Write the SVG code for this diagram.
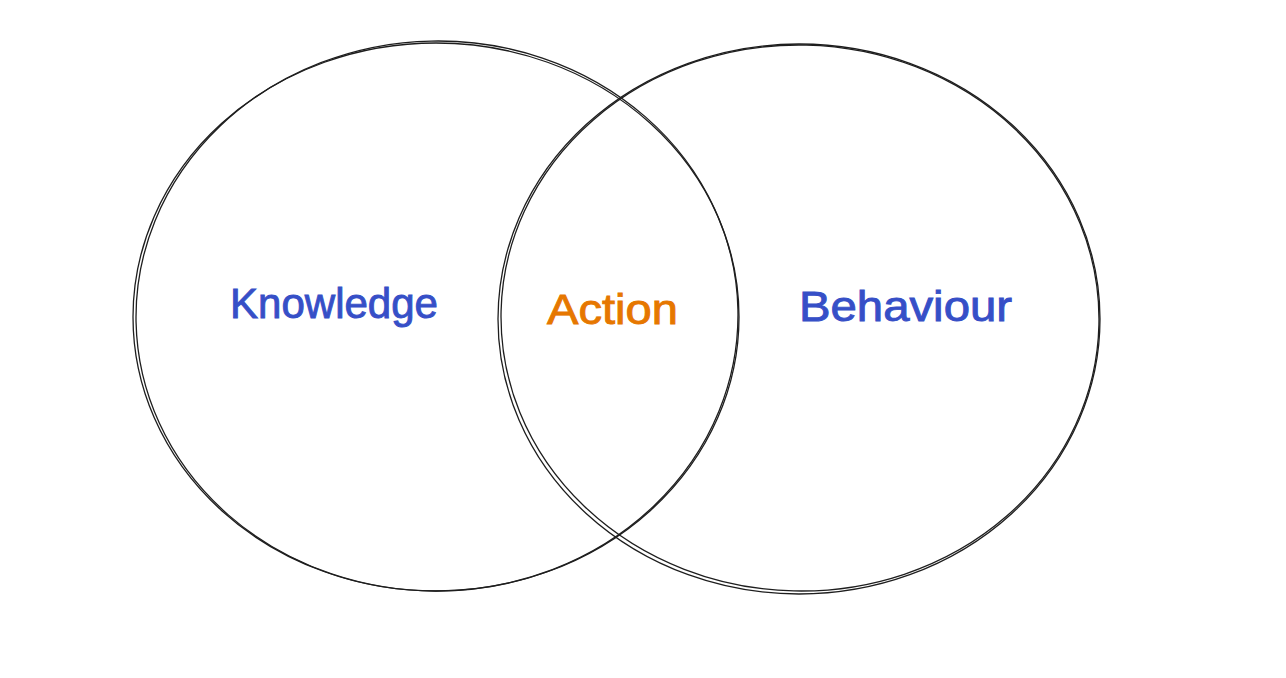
<svg xmlns="http://www.w3.org/2000/svg" width="1286" height="678" viewBox="0 0 1286 678">
<style>
.c{fill:none;stroke:#1e1e1e;stroke-width:1.3;stroke-linecap:round}
.t{font-family:"Liberation Sans",Arial,sans-serif;font-size:42px;stroke-width:0.9}
.b{fill:#364fc7;stroke:#364fc7}
.o{fill:#e67700;stroke:#e67700}
</style>
<rect width="1286" height="678" fill="#ffffff"/>
<g id="knowledge">
<ellipse class="c" cx="436" cy="317" rx="303" ry="274"/>
<ellipse class="c" cx="437" cy="316" rx="301" ry="275" transform="rotate(-1.2 437 316)"/>
<text class="t b" x="230" y="318" textLength="208" lengthAdjust="spacingAndGlyphs">Knowledge</text>
</g>
<g id="behaviour">
<ellipse class="c" cx="799" cy="319" rx="301" ry="275"/>
<ellipse class="c" cx="800" cy="318" rx="299" ry="273" transform="rotate(1.3 800 318)"/>
<text class="t b" x="799" y="321" textLength="213" lengthAdjust="spacingAndGlyphs">Behaviour</text>
</g>
<g id="action">
<text class="t o" x="547" y="324" textLength="131" lengthAdjust="spacingAndGlyphs">Action</text>
</g>
<g id="connectors"></g>
</svg>
